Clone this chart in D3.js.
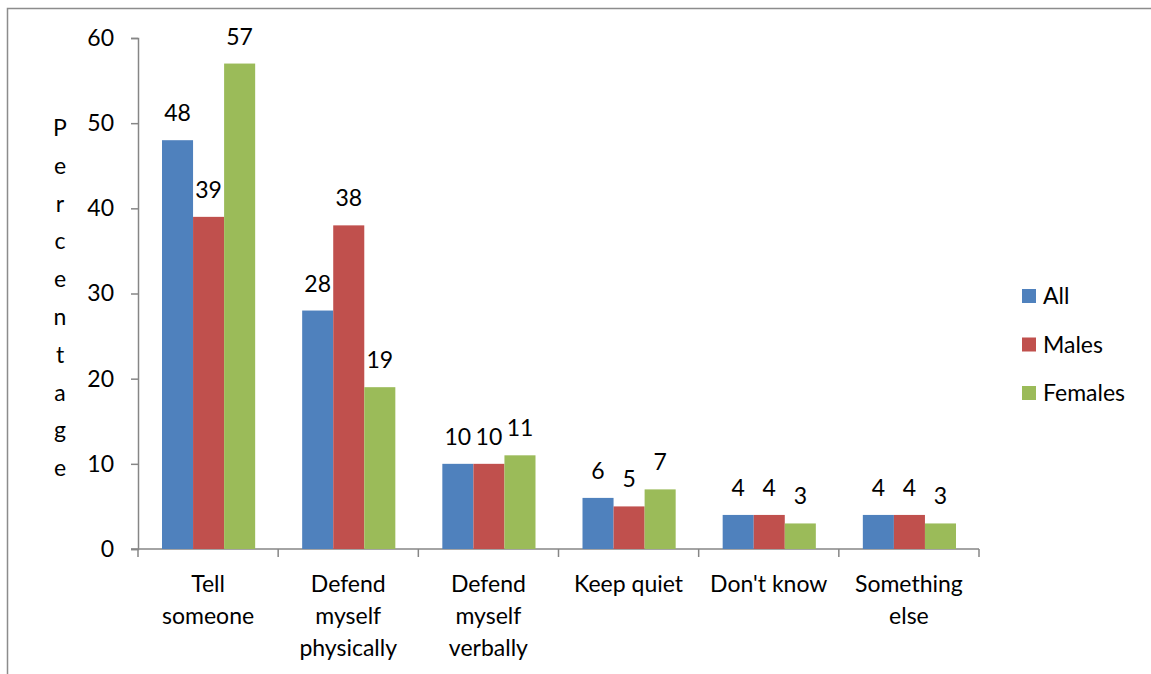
<!DOCTYPE html>
<html>
<head>
<meta charset="utf-8">
<script src="https://cdnjs.cloudflare.com/ajax/libs/d3/7.8.5/d3.min.js"></script>
<style>
  body { margin: 0; background: #fff; }
  svg text { font-family: Lato, "Open Sans", sans-serif; fill: #000; }
</style>
</head>
<body>
<div id="chart"></div>
<script>
// data
var categories = [["Tell", "someone"], ["Defend", "myself", "physically"], ["Defend", "myself", "verbally"], ["Keep quiet"], ["Don't know"], ["Something", "else"]];
var seriesNames = ["All", "Males", "Females"];
var allValues = [48, 28, 10, 6, 4, 4];
var maleValues = [39, 38, 10, 5, 4, 4];
var femaleValues = [57, 19, 11, 7, 3, 3];
var yTicks = [0, 10, 20, 30, 40, 50, 60];
var colors = ["#4F81BD", "#C0504D", "#9BBB59"];

var w = 1151, h = 674;
var plotLeft = 138, plotRight = 979, plotTop = 38, plotBottom = 549;
var fs = "23px";

var svg = d3.select("#chart").append("svg")
  .attr("width", w)
  .attr("height", h);

// chart frame
svg.append("rect")
  .attr("x", 7.5).attr("y", 8.5)
  .attr("width", 1160).attr("height", 700)
  .attr("fill", "none")
  .attr("stroke", "#8c8c8c")
  .attr("stroke-width", 1.5);

var idx = d3.range(categories.length);
var x = d3.scaleBand().domain(idx).range([plotLeft, plotRight]);
var x1 = d3.scaleBand().domain(seriesNames).range([24, x.bandwidth() - 23]);
var y = d3.scaleLinear().domain([0, 60]).range([plotBottom, plotTop]);

var series = [allValues, maleValues, femaleValues];

// y axis
var yAxis = svg.append("g")
  .attr("transform", "translate(" + plotLeft + ",0)")
  .call(d3.axisLeft(y).tickValues(yTicks).tickSize(7).tickPadding(17));
yAxis.select(".domain").attr("stroke", "#868686").attr("stroke-width", 1.5);
yAxis.selectAll(".tick line").attr("stroke", "#868686").attr("stroke-width", 1.5);
yAxis.selectAll("text").style("font-size", fs).style("font-family", "Lato, sans-serif").attr("fill", "#000");

// x axis line and tick marks between groups
svg.append("line")
  .attr("x1", plotLeft - 7).attr("x2", plotRight)
  .attr("y1", plotBottom).attr("y2", plotBottom)
  .attr("stroke", "#868686").attr("stroke-width", 1.5);
svg.selectAll(".xtick")
  .data(d3.range(categories.length + 1))
  .enter().append("line")
  .attr("x1", function(d) { return plotLeft + d * x.step(); })
  .attr("x2", function(d) { return plotLeft + d * x.step(); })
  .attr("y1", plotBottom).attr("y2", plotBottom + 8)
  .attr("stroke", "#868686").attr("stroke-width", 1.5);

// bars
seriesNames.forEach(function(name, s) {
  var g = svg.append("g");
  g.selectAll("rect")
    .data(series[s])
    .enter().append("rect")
    .attr("x", function(d, i) { return x(i) + x1(name); })
    .attr("y", function(d) { return y(d); })
    .attr("width", x1.bandwidth())
    .attr("height", function(d) { return plotBottom - y(d); })
    .attr("fill", colors[s]);
  g.selectAll("text")
    .data(series[s])
    .enter().append("text")
    .attr("x", function(d, i) { return x(i) + x1(name) + x1.bandwidth() / 2; })
    .attr("y", function(d) { return y(d) - 19; })
    .attr("text-anchor", "middle")
    .style("font-size", fs)
    .text(function(d) { return d; });
});

// category labels
svg.selectAll(".cat")
  .data(categories)
  .enter().append("text")
  .attr("class", "cat")
  .attr("text-anchor", "middle")
  .style("font-size", fs)
  .each(function(lines, i) {
    d3.select(this).selectAll("tspan")
      .data(lines)
      .enter().append("tspan")
      .attr("x", x(i) + x.bandwidth() / 2)
      .attr("y", function(d, j) { return 592 + j * 32; })
      .text(function(d) { return d; });
  });

// vertical y title, one letter per line
svg.selectAll(".ytitle")
  .data("Percentage".split(""))
  .enter().append("text")
  .attr("class", "ytitle")
  .attr("x", 60)
  .attr("y", function(d, i) { return 136 + i * 37.8; })
  .attr("text-anchor", "middle")
  .style("font-size", fs)
  .text(function(d) { return d; });

// legend
var legend = svg.selectAll(".leg")
  .data(seriesNames)
  .enter().append("g")
  .attr("transform", function(d, i) { return "translate(1022," + (289 + i * 48.5) + ")"; });
legend.append("rect")
  .attr("width", 14).attr("height", 14)
  .attr("fill", function(d, i) { return colors[i]; });
legend.append("text")
  .attr("x", 21).attr("y", 15)
  .style("font-size", fs)
  .text(function(d) { return d; });
</script>
</body>
</html>
